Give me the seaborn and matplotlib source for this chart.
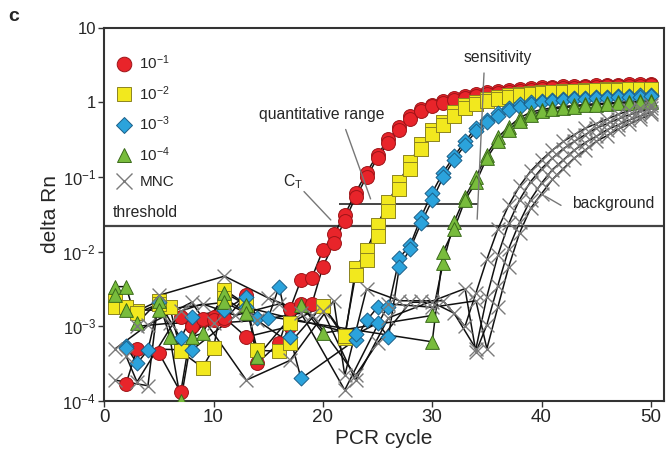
import numpy as np
import pandas as pd
import matplotlib
matplotlib.use('Agg')
import matplotlib.pyplot as plt
from matplotlib.lines import Line2D
import seaborn as sns

nan = np.nan

# ============================================================
# 数据：PCR 循环 1..50 的 delta Rn（每个稀释度两个复孔，MNC 四条背景）
# ============================================================
CYCLES = list(range(1, 51))

red_a = [nan, 1.7e-4, 5.0e-4, nan, 4.4e-4, nan, 1.3e-4, 1.0e-3, 1.2e-3, 1.35e-3,
         1.2e-3, nan, 2.6e-3, 3.2e-4, nan, 6.0e-4, 1.7e-3, 4.2e-3, 4.5e-3, 1.05e-2,
         1.7e-2, 3.1e-2, 6.2e-2, 0.115, 0.20, 0.32, 0.47, 0.65, 0.81, 0.93,
         1.03, 1.13, 1.22, 1.30, 1.37, 1.43, 1.48, 1.52, 1.56, 1.59,
         1.62, 1.64, 1.66, 1.68, 1.70, 1.72, 1.73, 1.75, 1.76, 1.77]
red_b = [nan, nan, nan, nan, nan, nan, 1.35e-3, 1.0e-3, 1.25e-3, 1.2e-3,
         1.3e-3, nan, 7.2e-4, nan, nan, nan, 1.0e-3, 2.0e-3, 2.0e-3, 6.3e-3,
         1.3e-2, 2.6e-2, 5.4e-2, 0.10, 0.18, 0.29, 0.43, 0.60, 0.76, 0.89,
         0.99, 1.08, 1.16, 1.23, 1.30, 1.35, 1.40, 1.44, 1.48, 1.51,
         1.54, 1.56, 1.58, 1.60, 1.62, 1.64, 1.65, 1.67, 1.68, 1.70]

yellow_a = [2.2e-3, 1.8e-3, 1.6e-3, nan, 2.2e-3, 1.8e-3, 4.6e-4, nan, 2.8e-4, 5.1e-4,
            3.1e-3, nan, 1.95e-3, 4.8e-4, nan, 4.6e-4, 1.1e-3, nan, nan, 1.9e-3,
            nan, 6.9e-4, 6.0e-3, 1.05e-2, 2.3e-2, 4.7e-2, 8.7e-2, 0.16, 0.28, 0.43,
            0.55, 0.74, 0.93, 1.02, 1.10, 1.18, 1.25, 1.30, 1.34, 1.37,
            1.40, 1.42, 1.44, 1.46, 1.48, 1.49, 1.50, 1.51, 1.52, 1.53]
yellow_b = [1.8e-3, 1.8e-3, 1.5e-3, nan, 2.0e-3, nan, 4.6e-4, nan, nan, nan,
            2.4e-3, nan, nan, nan, nan, nan, 6.0e-4, nan, nan, 1.9e-3,
            nan, 7.5e-4, 4.9e-3, 7.8e-3, 1.6e-2, 3.5e-2, 7.0e-2, 0.13, 0.24, 0.38,
            0.50, 0.66, 0.83, 0.95, 1.04, 1.12, 1.19, 1.25, 1.29, 1.33,
            1.36, 1.39, 1.41, 1.43, 1.45, 1.46, 1.48, 1.49, 1.50, 1.51]

blue_a = [nan, 5.4e-4, 3.2e-4, 4.8e-4, 2.1e-3, nan, 6.9e-4, 1.35e-3, nan, nan,
          1.66e-3, nan, 2.5e-3, 1.3e-3, 1.3e-3, 3.4e-3, 7.2e-4, 2.0e-4, nan, nan,
          nan, nan, 6.6e-4, 1.2e-3, 1.8e-3, 1.8e-3, 8.3e-3, 1.23e-2, 2.95e-2, 6.2e-2,
          0.115, 0.19, 0.30, 0.46, 0.59, 0.72, 0.85, 0.95, 1.00, 1.05,
          1.08, 1.11, 1.14, 1.16, 1.18, 1.20, 1.21, 1.23, 1.24, 1.25]
blue_b = [nan, 5.1e-4, nan, nan, nan, nan, nan, 4.8e-4, nan, nan,
          nan, nan, 1.8e-3, nan, nan, nan, nan, nan, nan, nan,
          nan, nan, 7.8e-4, nan, 1.1e-3, 7.2e-4, 6.3e-3, 1.1e-2, 2.45e-2, 4.9e-2,
          0.10, 0.17, 0.27, 0.41, 0.54, 0.66, 0.78, 0.88, 0.95, 1.00,
          1.04, 1.07, 1.10, 1.12, 1.14, 1.16, 1.18, 1.19, 1.20, 1.21]

green_a = [3.4e-3, 3.4e-3, 1.1e-3, nan, 2.2e-3, 7.2e-4, 1.0e-4, 7.2e-4, 8.1e-4, nan,
           2.8e-3, nan, 1.95e-3, 3.9e-4, nan, nan, nan, 1.95e-3, nan, 8.1e-4,
           nan, nan, nan, nan, nan, nan, nan, nan, nan, 1.4e-3,
           7.1e-3, 2.5e-2, 5.4e-2, 0.10, 0.20, 0.34, 0.47, 0.62, 0.74, 0.80,
           0.85, 0.88, 0.91, 0.94, 0.96, 0.98, 1.00, 1.02, 1.03, 1.05]
green_b = [2.6e-3, 1.65e-3, nan, nan, 1.65e-3, nan, nan, nan, nan, nan,
           2.1e-3, nan, 1.5e-3, nan, nan, nan, nan, nan, nan, nan,
           nan, nan, nan, nan, nan, nan, nan, nan, nan, 6.2e-4,
           1.0e-2, 2.0e-2, 4.9e-2, 8.5e-2, 0.18, 0.30, 0.43, 0.57, 0.68, 0.76,
           0.81, 0.85, 0.88, 0.91, 0.93, 0.95, 0.97, 0.99, 1.00, 1.01]

mnc_1 = [5.0e-4, nan, nan, 1.05e-3, nan, nan, nan, 2.1e-3, nan, nan,
         nan, nan, 1.9e-4, nan, nan, nan, 3.5e-4, nan, nan, nan,
         2.2e-3, 2.2e-4, nan, 3.2e-3, nan, nan, 2.2e-3, nan, 2.2e-3, nan,
         2.2e-3, nan, 1.0e-3, 2.8e-3, 7.9e-3, 2.0e-2, 4.2e-2, 7.6e-2, 0.12, 0.17,
         0.23, 0.30, 0.37, 0.45, 0.52, 0.60, 0.69, 0.78, 0.85, 0.91]
mnc_2 = [1.9e-4, nan, nan, 1.6e-4, 2.6e-3, nan, nan, nan, nan, nan,
         4.7e-3, nan, nan, nan, 2.4e-3, nan, nan, nan, 1.4e-3, nan,
         nan, nan, 2.2e-4, nan, 6.0e-4, nan, nan, 2.1e-3, nan, 2.1e-3,
         nan, 1.5e-3, nan, 5.0e-4, 2.5e-3, 8.9e-3, 2.4e-2, 5.0e-2, 8.7e-2, 0.13,
         0.18, 0.24, 0.30, 0.37, 0.45, 0.52, 0.60, 0.68, 0.76, 0.83]
mnc_3 = [nan, 4.0e-4, 1.8e-4, nan, nan, nan, 1.6e-3, nan, 2.0e-3, nan,
         nan, 1.4e-3, nan, nan, nan, 2.0e-3, nan, nan, nan, 1.6e-3,
         nan, nan, 1.9e-4, nan, nan, 1.3e-3, nan, nan, nan, nan,
         nan, nan, 3.2e-3, 4.5e-4, 1.05e-3, 3.5e-3, 1.1e-2, 2.5e-2, 5.0e-2, 8.3e-2,
         0.126, 0.17, 0.23, 0.29, 0.35, 0.43, 0.50, 0.58, 0.66, 0.74]
mnc_4 = [nan, nan, 1.0e-3, nan, nan, 1.1e-3, nan, nan, nan, 1.1e-3,
         nan, nan, nan, 1.2e-3, nan, nan, nan, 1.5e-3, nan, nan,
         nan, 1.4e-4, nan, nan, nan, 2.0e-3, nan, nan, nan, 1.8e-3,
         nan, nan, nan, 2.2e-3, 5.0e-4, 1.8e-3, 6.3e-3, 1.8e-2, 3.8e-2, 6.0e-2,
         9.3e-2, 0.13, 0.18, 0.23, 0.30, 0.36, 0.44, 0.51, 0.60, 0.69]

THRESHOLD = 0.0224

DILUTIONS = ['10$^{-1}$', '10$^{-2}$', '10$^{-3}$', '10$^{-4}$', 'MNC']
SERIES = {
    '10$^{-1}$': [red_a, red_b],
    '10$^{-2}$': [yellow_a, yellow_b],
    '10$^{-3}$': [blue_a, blue_b],
    '10$^{-4}$': [green_a, green_b],
    'MNC': [mnc_1, mnc_2, mnc_3, mnc_4],
}

# 样式
STYLE = {
    '10$^{-1}$': dict(marker='o', fc='#e8242a', ec='#9e1418', s=100),
    '10$^{-2}$': dict(marker='s', fc='#f2e81e', ec='#8c8420', s=88),
    '10$^{-3}$': dict(marker='D', fc='#2ba3dc', ec='#1c5f88', s=58),
    '10$^{-4}$': dict(marker='^', fc='#78bc3c', ec='#3a6a1a', s=98),
    'MNC': dict(marker='x', fc='#7a7a7a', ec='#7a7a7a', s=100),
}

rows = []
for lab in DILUTIONS:
    for i, vals in enumerate(SERIES[lab]):
        for c, v in zip(CYCLES, vals):
            rows.append({'cycle': c, 'delta_rn': v, 'dilution': lab,
                         'trace': f'{lab}_{i}'})
df = pd.DataFrame(rows).dropna()

sns.set_style('ticks')
plt.rcParams['font.family'] = ['Liberation Sans', 'DejaVu Sans']
plt.rcParams['mathtext.default'] = 'regular'

fig = plt.figure(figsize=(6.68, 4.63), dpi=100)
ax = fig.add_axes([0.156, 0.134, 0.838, 0.806])

# 曲线连线（黑色）
sns.lineplot(data=df, x='cycle', y='delta_rn', units='trace', estimator=None,
             color='#111111', lw=1.1, legend=False, ax=ax, zorder=2)

# 数据点
for lab in DILUTIONS:
    st = STYLE[lab]
    sub = df[df['dilution'] == lab]
    if lab == 'MNC':
        sns.scatterplot(data=sub, x='cycle', y='delta_rn', marker='x', color=st['fc'],
                        s=st['s'], linewidth=1.0, legend=False, ax=ax, zorder=4)
    else:
        sns.scatterplot(data=sub, x='cycle', y='delta_rn', marker=st['marker'],
                        color=st['fc'], edgecolor=st['ec'], linewidth=0.7,
                        s=st['s'], legend=False, ax=ax, zorder=3)

ax.set_yscale('log')
ax.set_ylim(1e-4, 10)
ax.set_xlim(0, 51.2)

# 阈值与标注线
ax.axhline(THRESHOLD, color='#444444', lw=1.6, zorder=1)
ax.hlines(0.043, 21.5, 34.2, color='#444444', lw=1.4, zorder=1)
ax.annotate('', xy=(34.1, 0.025), xytext=(34.75, 2.7),
            arrowprops=dict(arrowstyle='-', color='#777777', lw=1.0))
ax.annotate('', xy=(20.9, 0.025), xytext=(18.1, 0.068),
            arrowprops=dict(arrowstyle='-', color='#777777', lw=1.0))
ax.annotate('', xy=(24.45, 0.047), xytext=(22.0, 0.47),
            arrowprops=dict(arrowstyle='-', color='#777777', lw=1.0))
ax.annotate('', xy=(40.1, 0.058), xytext=(42.0, 0.040),
            arrowprops=dict(arrowstyle='-', color='#777777', lw=1.0))

ax.text(19.9, 0.68, 'quantitative range', ha='center', va='center', fontsize=11.3)
ax.text(17.3, 0.087, 'C$_{T}$', ha='center', va='center', fontsize=11.3)
ax.text(36.0, 4.0, 'sensitivity', ha='center', va='center', fontsize=11.3)
ax.text(46.6, 0.044, 'background', ha='center', va='center', fontsize=11.3)
ax.text(0.75, 0.033, 'threshold', ha='left', va='center', fontsize=11.3)

# 坐标轴
ax.set_xticks([0, 10, 20, 30, 40, 50])
ax.set_yticks([1e-4, 1e-3, 1e-2, 1e-1, 1, 10])
ax.set_yticklabels(['10$^{-4}$', '10$^{-3}$', '10$^{-2}$', '10$^{-1}$', '1', '10'])
ax.yaxis.set_minor_locator(matplotlib.ticker.NullLocator())
ax.tick_params(axis='x', labelsize=13.5, length=4, width=1, color='#333333', pad=2)
ax.tick_params(axis='y', labelsize=12, length=4, width=1, color='#333333', pad=2)
for sp in ax.spines.values():
    sp.set_visible(True)
    sp.set_color('#333333')
    sp.set_linewidth(1.5)
ax.set_xlabel('PCR cycle', fontsize=15, labelpad=2)
ax.set_ylabel('delta Rn', fontsize=15, labelpad=2)

# 图例
handles = []
for lab in DILUTIONS:
    st = STYLE[lab]
    if lab == 'MNC':
        h = Line2D([], [], ls='none', marker='x', color=st['fc'], markersize=11,
                   markeredgewidth=1.0)
    else:
        ms = {'o': 10.5, 's': 9.5, 'D': 7.8, '^': 10.5}[st['marker']]
        h = Line2D([], [], ls='none', marker=st['marker'], markerfacecolor=st['fc'],
                   markeredgecolor=st['ec'], markersize=ms, markeredgewidth=0.7)
    handles.append(h)
ax.legend(handles, DILUTIONS, loc='upper left', bbox_to_anchor=(0.0, 0.96),
          frameon=False, fontsize=11, labelspacing=0.78, handletextpad=0.4,
          handlelength=1.2, borderaxespad=0.3)

fig.text(0.012, 0.965, 'c', fontsize=14, fontweight='bold', ha='left', va='center')

fig.savefig('out.png', dpi=100)
